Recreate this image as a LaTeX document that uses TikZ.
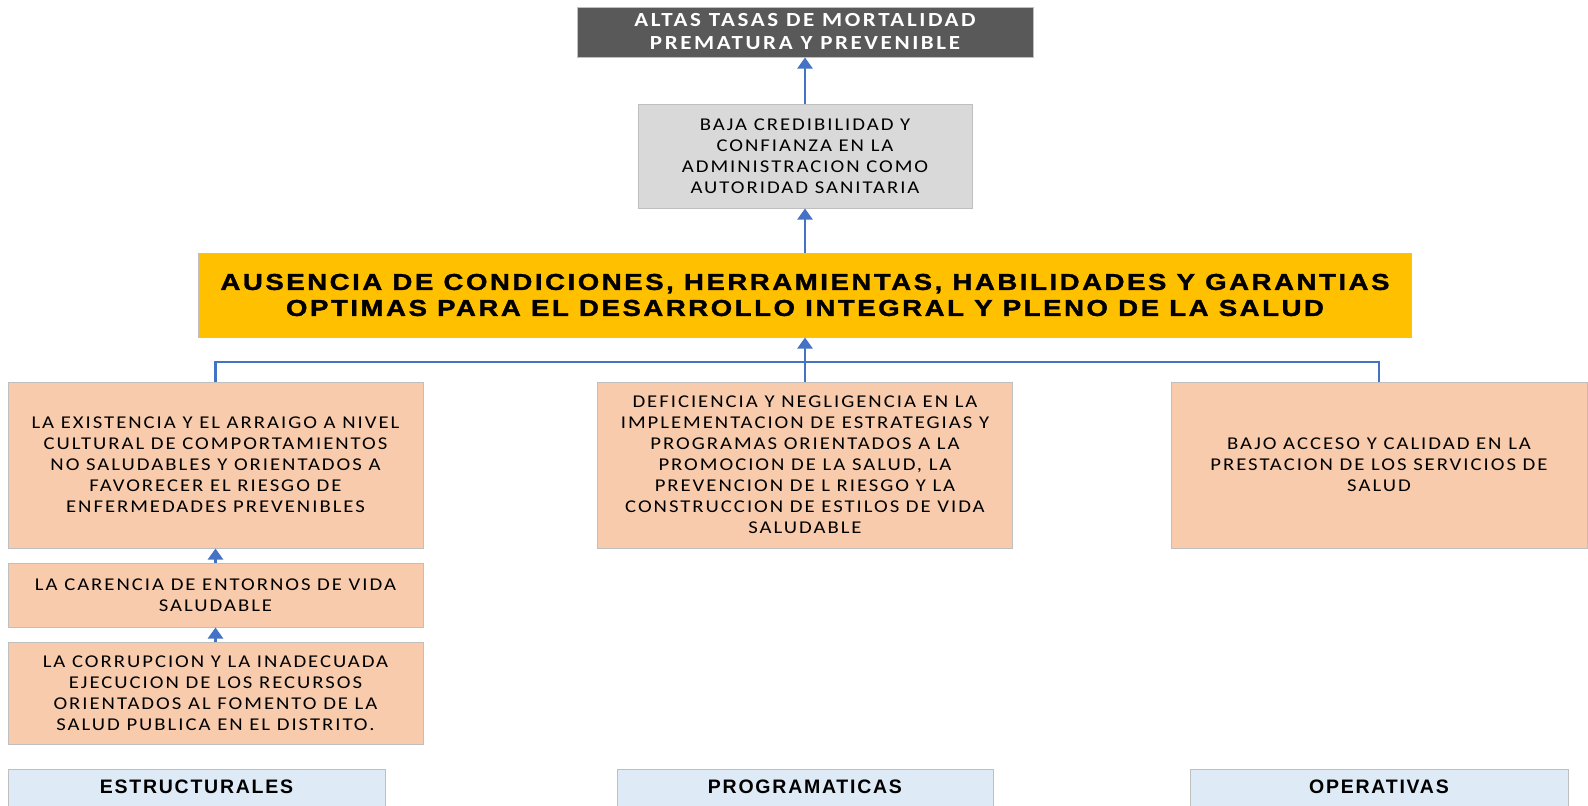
\documentclass[tikz,border=0pt]{standalone}
\usepackage{fontspec}
\setmainfont{Carlito}
\newfontfamily\bodyfont{Carlito}[FakeStretch=1.15, LetterSpace=11]
\newfontfamily\topfont{Carlito}[FakeStretch=1.15, LetterSpace=13]
\newfontfamily\headfont{Liberation Sans}[FakeStretch=1.2, FakeBold=1.5, LetterSpace=11]
\newfontfamily\kindfont{Liberation Sans}[LetterSpace=9]
\usetikzlibrary{arrows.meta}

\definecolor{darkbox}{HTML}{595959}
\definecolor{greybox}{HTML}{D9D9D9}
\definecolor{goldbox}{HTML}{FFC000}
\definecolor{peach}{HTML}{F8CBAD}
\definecolor{paleblue}{HTML}{DEEBF7}
\definecolor{boxline}{HTML}{BFBFBF}
\definecolor{linkblue}{HTML}{4472C4}

\begin{document}
\begin{tikzpicture}[x=1pt, y=-1pt,
  box/.style={draw=boxline, line width=1pt, align=center, inner sep=0pt},
  cause/.style={box, fill=peach, minimum width=415pt, font=\bodyfont\fontsize{18}{21}\selectfont},
  kind/.style={box, fill=paleblue, minimum width=377pt, minimum height=60pt, font=\kindfont\bfseries\fontsize{19.5}{22}\selectfont},
  link/.style={draw=linkblue, line width=2.2pt},
  up/.style={link, -{Triangle[width=15pt,length=11pt]}}]
  \clip (0,0) rectangle (1588,806);
  \fill[white] (0,0) rectangle (1588,806);

  % effects
  \node[box, fill=darkbox, text=white, minimum width=456pt, minimum height=50pt,
        font=\topfont\bfseries\fontsize{20}{23}\selectfont] (mortal) at (805,32)
        {ALTAS TASAS DE MORTALIDAD\\PREMATURA Y PREVENIBLE};
  \node[box, fill=greybox, minimum width=334pt, minimum height=104pt,
        font=\bodyfont\fontsize{18}{21}\selectfont] (credib) at (805,156)
        {BAJA CREDIBILIDAD Y\\CONFIANZA EN LA\\ADMINISTRACION COMO\\AUTORIDAD SANITARIA};

  % central problem
  \node[box, fill=goldbox, minimum width=1213pt, minimum height=84pt,
        font=\headfont\bfseries\fontsize{23}{26}\selectfont] (problem) at (805,295)
        {AUSENCIA DE CONDICIONES, HERRAMIENTAS, HABILIDADES Y GARANTIAS\\OPTIMAS PARA EL DESARROLLO INTEGRAL Y PLENO DE LA SALUD};

  % causes
  \node[cause, minimum height=166pt] (cultura) at (215.5,465)
        {LA EXISTENCIA Y EL ARRAIGO A NIVEL\\CULTURAL DE COMPORTAMIENTOS\\NO SALUDABLES Y ORIENTADOS A\\FAVORECER EL RIESGO DE\\ENFERMEDADES PREVENIBLES};
  \node[cause, minimum height=64pt] (entorno) at (215.5,595)
        {LA CARENCIA DE ENTORNOS DE VIDA\\SALUDABLE};
  \node[cause, minimum height=102pt] (corrup) at (215.5,693)
        {LA CORRUPCION Y LA INADECUADA\\EJECUCION DE LOS RECURSOS\\ORIENTADOS AL FOMENTO DE LA\\SALUD PUBLICA EN EL DISTRITO.};
  \node[cause, minimum height=166pt] (program) at (805,465)
        {DEFICIENCIA Y NEGLIGENCIA EN LA\\IMPLEMENTACION DE ESTRATEGIAS Y\\PROGRAMAS ORIENTADOS A LA\\PROMOCION DE LA SALUD, LA\\PREVENCION DE L RIESGO Y LA\\CONSTRUCCION DE ESTILOS DE VIDA\\SALUDABLE};
  \node[cause, minimum width=416pt, minimum height=166pt] (acceso) at (1379,465)
        {BAJO ACCESO Y CALIDAD EN LA\\PRESTACION DE LOS SERVICIOS DE\\SALUD};

  % categories
  \node[kind, anchor=north] (estruct) at (196.5,769) {ESTRUCTURALES\\[4pt]};
  \node[kind, anchor=north, minimum width=376pt] (programa) at (805,769) {PROGRAMATICAS\\[4pt]};
  \node[kind, anchor=north, minimum width=378pt] (operat) at (1379,769) {OPERATIVAS\\[4pt]};

  % connectors
  \coordinate (bar) at (805,362);
  \draw[link] (cultura.north) |- (bar) -| (acceso.north);
  \draw[up] (program.north) -- (problem.south);
  \draw[up] (problem.north) -- (credib.south);
  \draw[up] (credib.north) -- (mortal.south);
  \draw[up] (entorno.north) -- (cultura.south);
  \draw[up] (corrup.north) -- (entorno.south);
\end{tikzpicture}
\end{document}
